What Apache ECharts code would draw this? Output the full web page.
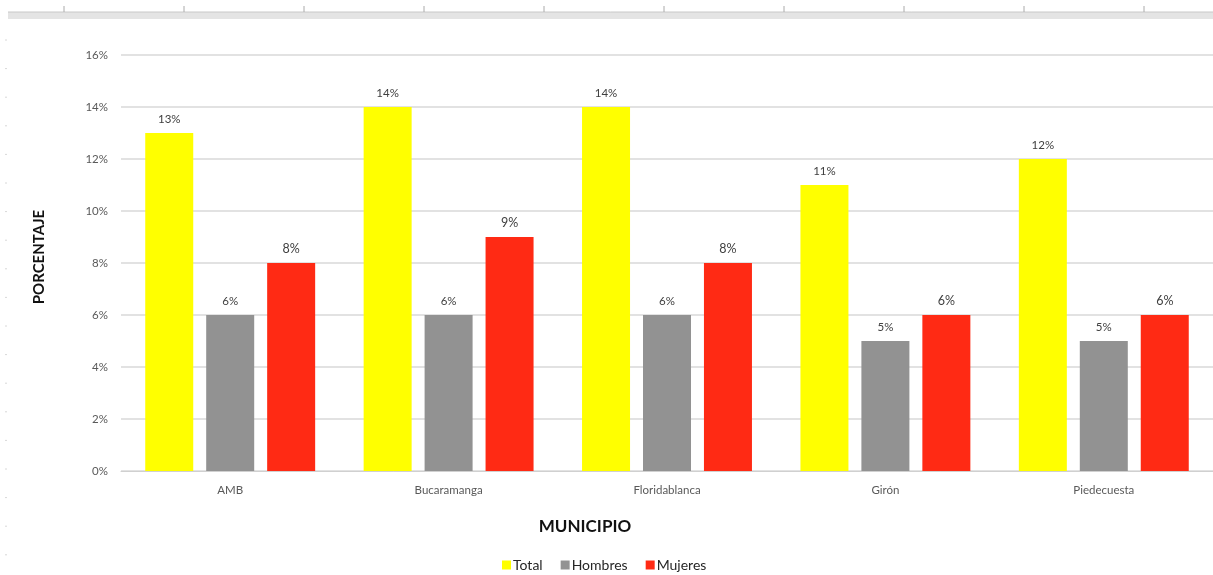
<!DOCTYPE html>
<html><head><meta charset="utf-8">
<script src="https://cdn.jsdelivr.net/npm/echarts@6/dist/echarts.min.js"></script>
<style>html,body{margin:0;padding:0;background:#fff}#c{width:1213px;height:575px}</style>
</head><body><div id="c"></div>
<script>
const categories = ['AMB', 'Bucaramanga', 'Floridablanca', 'Girón', 'Piedecuesta'];
const total = [13, 14, 14, 11, 12];
const hombres = [6, 6, 6, 5, 5];
const mujeres = [8, 9, 8, 6, 6];
const seriesNames = ['Total', 'Hombres', 'Mujeres'];

const FONT = 'Lato, "Open Sans", sans-serif';
const chart = echarts.init(document.getElementById('c'), null, {renderer: 'canvas'});

const deco = [];
deco.push({type: 'rect', shape: {x: 8, y: 12, width: 1205, height: 7}, style: {fill: '#e4e4e4'}, silent: true});
deco.push({type: 'line', shape: {x1: 8, y1: 12, x2: 1213, y2: 12}, style: {stroke: '#c8c8c8', lineWidth: 1}, silent: true});
for (let x = 64; x < 1213; x += 120) {
  deco.push({type: 'line', shape: {x1: x, y1: 6, x2: x, y2: 12}, style: {stroke: '#aaa', lineWidth: 1}, silent: true});
}
for (let y = 40; y < 575; y += 28.6) {
  deco.push({type: 'line', shape: {x1: 5, y1: y, x2: 7, y2: y}, style: {stroke: '#d8d8d8', lineWidth: 1}, silent: true});
}
deco.push({type: 'text', x: 585, y: 527, style: {text: 'MUNICIPIO', font: 'bold 17px ' + FONT, fill: '#111', textAlign: 'center', textVerticalAlign: 'middle'}});

function labelCfg(size) {
  return {show: true, position: 'top', distance: 8, formatter: p => p.value + '%',
    fontFamily: FONT, fontSize: size, color: '#404040'};
}

chart.setOption({
  animation: false,
  textStyle: {fontFamily: FONT},
  grid: {left: 121, top: 55, width: 1097, height: 416, containLabel: false},
  legend: {
    data: seriesNames, left: 497, top: 553, icon: 'rect', itemWidth: 9, itemHeight: 9, itemGap: 18,
    textStyle: {fontFamily: FONT, fontSize: 14, color: '#262626', padding: [0, 0, 0, -3]}
  },
  xAxis: {
    type: 'category', data: categories,
    axisLine: {lineStyle: {color: '#d0d0d0', width: 1}},
    axisTick: {show: false},
    axisLabel: {color: '#595959', fontSize: 11.5, margin: 13, fontFamily: FONT}
  },
  yAxis: {
    type: 'value', min: 0, max: 16, interval: 2,
    name: 'PORCENTAJE', nameLocation: 'middle', nameGap: 74, nameRotate: 90,
    nameTextStyle: {fontFamily: FONT, fontSize: 15, fontWeight: 'bold', color: '#111', padding: [0, 0, 0, 12]},
    axisLine: {show: false}, axisTick: {show: false},
    axisLabel: {formatter: '{value}%', color: '#595959', fontSize: 11.5, margin: 13, fontFamily: FONT},
    splitLine: {lineStyle: {color: '#d9d9d9', width: 1.5}}
  },
  series: [
    {name: seriesNames[0], type: 'bar', data: total, itemStyle: {color: '#FFFF00'},
     barWidth: 48, barGap: '27%', label: labelCfg(11.5)},
    {name: seriesNames[1], type: 'bar', data: hombres, itemStyle: {color: '#929292'},
     barWidth: 48, barGap: '27%', label: labelCfg(11.5)},
    {name: seriesNames[2], type: 'bar', data: mujeres, itemStyle: {color: '#FF2A14'},
     barWidth: 48, barGap: '27%', label: labelCfg(12.5)}
  ],
  graphic: deco
});
</script></body></html>
